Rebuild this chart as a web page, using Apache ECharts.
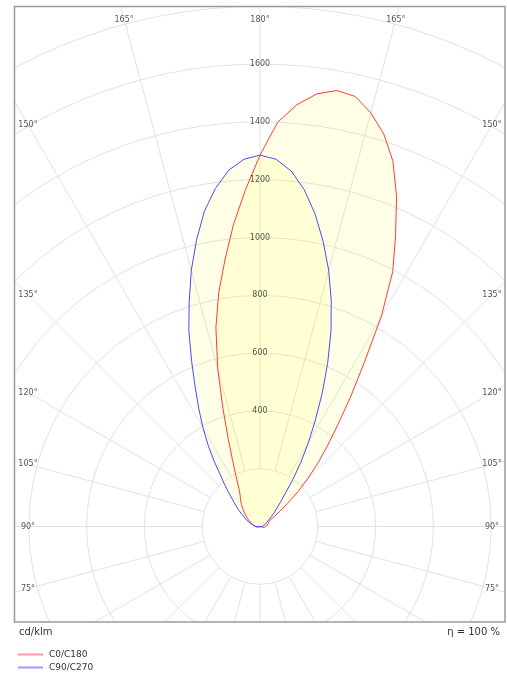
<!DOCTYPE html>
<html><head><meta charset="utf-8">
<script src="https://cdn.jsdelivr.net/npm/echarts@6/dist/echarts.min.js"></script>
<style>html,body{margin:0;padding:0;background:#fff}#c{width:507px;height:673px}</style>
</head><body><div id="c"></div>
<script>
// Photometric angle gamma (0 = straight down, 180 = straight up)
const gammaAngles = [0, 30, 60, 70, 80, 90, 100, 110, 115, 120, 122.5, 125, 127.5, 130, 132.5, 135, 137.5, 140, 142.5, 145, 147.5, 150, 152.5, 155, 157.5, 160, 162.5, 165, 167.5, 170, 172.5, 175, 177.5, 180];
// intensities in cd/klm
const c0   = [0, 0, 3, 8, 15, 22, 28, 30, 32, 36, 42, 58, 88, 125, 178, 232, 295, 362, 440, 545, 670, 840, 995, 1110, 1235, 1345, 1424, 1482, 1524, 1532, 1510, 1465, 1400, 1285];
const c180 = [0, 0, 3, 6, 12, 16, 22, 32, 38, 46, 51, 56, 62, 68, 75, 82, 91, 100, 110, 118, 128, 142, 166, 200, 248, 320, 425, 565, 705, 822, 930, 1050, 1165, 1285];
const c90  = [0, 0, 2, 3, 5, 8, 12, 18, 21, 25, 28, 32, 38, 46, 58, 72, 88, 110, 142, 198, 262, 335, 415, 510, 612, 718, 820, 918, 1010, 1098, 1175, 1235, 1272, 1285];
const c270 = [0, 0, 2, 4, 8, 14, 24, 38, 50, 62, 70, 80, 92, 105, 120, 138, 162, 192, 225, 278, 335, 395, 458, 530, 618, 720, 815, 918, 1015, 1108, 1180, 1238, 1272, 1285];
const seriesNames = ['C0/C180', 'C90/C270'];
const radialTicks = [400, 600, 800, 1000, 1200, 1400, 1600];
const sideAngleTicks = [150, 135, 120, 105, 90, 75];
const topAngleTicks = [165, 180];
const unitText = 'cd/klm';
const effText = 'η = 100 %';

// layout
const CX = 260, CY = 526.5, PX_PER_CD = 0.289, R_MAX = 2000, R_STEP = 200;
const FRAME = {x: 14.5, y: 6.5, w: 490.5, h: 615.5};
const SIDE_LABEL_DX = 232, TOP_LABEL_Y = 19.5;
const FONT = 'DejaVu Sans';

function curve(right, left) {
  const pts = [];
  gammaAngles.forEach((g, i) => pts.push([right[i], 360 - g]));
  for (let i = gammaAngles.length - 2; i >= 0; i--) pts.push([left[i], gammaAngles[i]]);
  return pts;
}
const rad = d => d * Math.PI / 180;
const angleLabelData = [];
sideAngleTicks.forEach(g => {
  const r = SIDE_LABEL_DX / PX_PER_CD / Math.sin(rad(g));
  angleLabelData.push({name: g + '°', value: [r, g]});
  angleLabelData.push({name: g + '°', value: [r, 360 - g]});
});
topAngleTicks.forEach(g => {
  const r = (CY - TOP_LABEL_Y) / PX_PER_CD / Math.abs(Math.cos(rad(g)));
  angleLabelData.push({name: g + '°', value: [r, g]});
  if (g !== 180) angleLabelData.push({name: g + '°', value: [r, 360 - g]});
});

const gridColor = '#e2e2e2';
const chart = echarts.init(document.getElementById('c'), null, {renderer: 'canvas'});
chart.setOption({
  animation: false,
  backgroundColor: '#fff',
  polar: [
    {center: [CX, CY], radius: [0, R_MAX * PX_PER_CD]},
    {center: [CX, CY], radius: [R_STEP * PX_PER_CD, R_MAX * PX_PER_CD]}
  ],
  angleAxis: [
    {polarIndex: 0, type: 'value', min: 0, max: 360, interval: 15, startAngle: 270, clockwise: true,
     axisLine: {show: false}, axisTick: {show: false}, axisLabel: {show: false}, splitLine: {show: false}},
    {polarIndex: 1, type: 'value', min: 0, max: 360, interval: 15, startAngle: 270, clockwise: true,
     axisLine: {show: false}, axisTick: {show: false}, axisLabel: {show: false},
     splitLine: {show: true, lineStyle: {color: gridColor, width: 1}}}
  ],
  radiusAxis: [
    {polarIndex: 0, type: 'value', min: 0, max: R_MAX, interval: R_STEP,
     axisLine: {show: false}, axisTick: {show: false}, axisLabel: {show: false},
     splitLine: {show: true, lineStyle: {color: gridColor, width: 1}}},
    {polarIndex: 1, type: 'value', min: 0, max: R_MAX, interval: R_STEP,
     axisLine: {show: false}, axisTick: {show: false}, axisLabel: {show: false}, splitLine: {show: false}}
  ],
  legend: {
    orient: 'vertical', left: 18, top: 650, padding: 0, itemGap: 4, itemWidth: 25, itemHeight: 2,
    icon: 'rect', z: 60, selectedMode: false,
    textStyle: {fontFamily: FONT, fontSize: 9, color: '#333', padding: [0, 0, 0, 1]},
    data: [
      {name: seriesNames[0], itemStyle: {color: '#ff9a9a'}},
      {name: seriesNames[1], itemStyle: {color: '#9a9aff'}}
    ]
  },
  series: [
    {name: seriesNames[0], type: 'line', coordinateSystem: 'polar', polarIndex: 0, symbol: 'none',
     data: curve(c0, c180), lineStyle: {color: '#ff3b3b', width: 1}, itemStyle: {color: '#ff3b3b'},
     areaStyle: {color: 'rgba(255,255,0,0.13)'}, z: 3, silent: true},
    {name: seriesNames[1], type: 'line', coordinateSystem: 'polar', polarIndex: 0, symbol: 'none',
     data: curve(c90, c270), lineStyle: {color: '#4a4aff', width: 1}, itemStyle: {color: '#4a4aff'},
     areaStyle: {color: 'rgba(255,255,0,0.13)'}, z: 3, silent: true},
    {type: 'scatter', coordinateSystem: 'polar', polarIndex: 0, symbolSize: 0, silent: true, z: 5,
     data: radialTicks.map(r => ({name: String(r), value: [r, 180]})),
     label: {show: true, position: 'inside', formatter: '{b}', fontFamily: FONT, fontSize: 8, color: '#2a2a2a'}},
    {type: 'scatter', coordinateSystem: 'polar', polarIndex: 0, symbolSize: 0, silent: true, z: 5,
     data: angleLabelData,
     label: {show: true, position: 'inside', formatter: '{b}', fontFamily: FONT, fontSize: 8, color: '#2a2a2a'}}
  ],
  graphic: [
    {type: 'rect', z: 50, silent: true, shape: {x: 0, y: 0, width: 507, height: FRAME.y}, style: {fill: '#fff'}},
    {type: 'rect', z: 50, silent: true, shape: {x: 0, y: 0, width: FRAME.x, height: 673}, style: {fill: '#fff'}},
    {type: 'rect', z: 50, silent: true, shape: {x: FRAME.x + FRAME.w, y: 0, width: 10, height: 673}, style: {fill: '#fff'}},
    {type: 'rect', z: 50, silent: true, shape: {x: 0, y: FRAME.y + FRAME.h, width: 507, height: 60}, style: {fill: '#fff'}},
    {type: 'rect', z: 55, silent: true, shape: {x: FRAME.x, y: FRAME.y, width: FRAME.w, height: FRAME.h},
     style: {fill: 'none', stroke: '#9a9a9a', lineWidth: 1.5}},
    {type: 'text', z: 60, silent: true, x: 19, y: 632,
     style: {text: unitText, fill: '#333', font: '10px "DejaVu Sans"', textVerticalAlign: 'middle', verticalAlign: 'middle'}},
    {type: 'text', z: 60, silent: true, x: 500, y: 632,
     style: {text: effText, fill: '#333', font: '10px "DejaVu Sans"', textAlign: 'right', align: 'right', textVerticalAlign: 'middle', verticalAlign: 'middle'}}
  ]
});
</script></body></html>
